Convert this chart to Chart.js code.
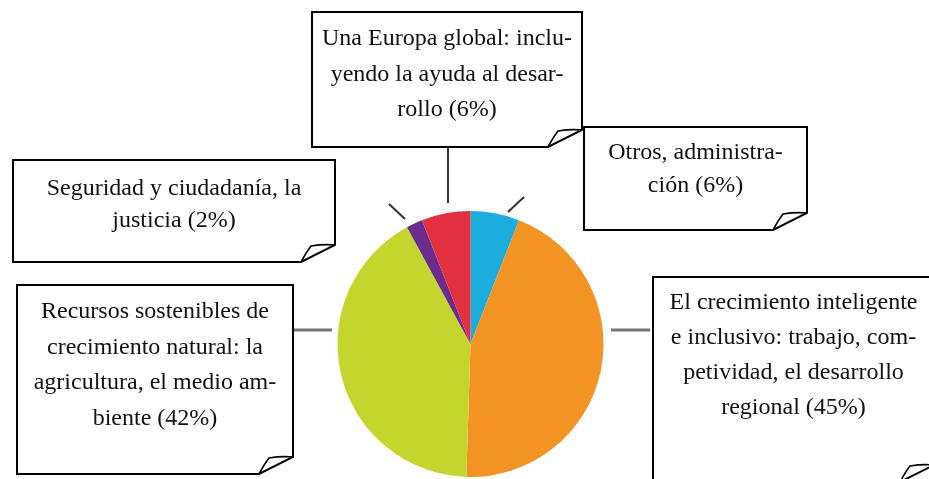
<!DOCTYPE html>
<html>
<head>
<meta charset="utf-8">
<script src="https://cdn.jsdelivr.net/npm/chart.js@4/dist/chart.umd.min.js"></script>
<style>
  html, body { margin: 0; padding: 0; background: #fff; }
  #wrap { width: 929px; height: 479px; }
</style>
</head>
<body>
<div id="wrap"><canvas id="budgetPie" width="929" height="479"></canvas></div>
<script>
// slices in drawing order, clockwise from 12 o'clock
const categories = [
    "Otros, administración",
    "El crecimiento inteligente e inclusivo",
    "Recursos sostenibles de crecimiento natural",
    "Seguridad y ciudadanía, la justicia",
    "Una Europa global",
];

const shares = [6, 45, 42, 2, 6];

const sliceColors = ["#1CADDD", "#F29323", "#C4D62E", "#6B2C8E", "#E2303F"];

// callout texts, same order as categories
const calloutLines = [
    ["Otros, administra-", "ción (6%)"],
    ["El crecimiento inteligente", "e inclusivo: trabajo, com-", "petividad, el desarrollo", "regional (45%)"],
    ["Recursos sostenibles de", "crecimiento natural: la", "agricultura, el medio am-", "biente (42%)"],
    ["Seguridad y ciudadanía, la", "justicia (2%)"],
    ["Una Europa global: inclu-", "yendo la ayuda al desar-", "rollo (6%)"],
];

// box placement (layout only)
const boxes = [
    { x: 584, y: 127, w: 223, h: 103, y0: 159, lh: 33 },
    { x: 653, y: 277, w: 281, h: 205, y0: 309, lh: 35 },
    { x: 17, y: 285, w: 276, h: 189, y0: 318, lh: 35.5 },
    { x: 13, y: 160, w: 322, h: 102, y0: 195, lh: 32 },
    { x: 312, y: 12, w: 270, h: 135, y0: 45, lh: 35.5 },
];

const ticks = [
    { x1: 508, y1: 212, x2: 524, y2: 197, color: "#333", w: 2 },
    { x1: 611, y1: 330, x2: 650, y2: 330, color: "#777", w: 3 },
    { x1: 294, y1: 330, x2: 332, y2: 330, color: "#777", w: 3 },
    { x1: 389, y1: 204, x2: 405, y2: 219, color: "#333", w: 2 },
    { x1: 448, y1: 147, x2: 448, y2: 203, color: "#333", w: 2 },
];

const callouts = {
    id: "callouts",
    afterDraw(chart) {
        const ctx = chart.ctx;
        ctx.save();

        ticks.forEach((t) => {
            ctx.strokeStyle = t.color;
            ctx.lineWidth = t.w;
            ctx.beginPath();
            ctx.moveTo(t.x1, t.y1);
            ctx.lineTo(t.x2, t.y2);
            ctx.stroke();
        });

        boxes.forEach((b, i) => {
            const R = b.x + b.w;
            const B = b.y + b.h;
            const fx = 34;
            const fy = 17;

            ctx.fillStyle = "#fff";
            ctx.strokeStyle = "#000";
            ctx.lineWidth = 2;
            ctx.lineJoin = "miter";

            ctx.beginPath();
            ctx.moveTo(b.x, b.y);
            ctx.lineTo(R, b.y);
            ctx.lineTo(R, B - fy);
            ctx.lineTo(R - fx, B);
            ctx.lineTo(b.x, B);
            ctx.closePath();
            ctx.fill();
            ctx.stroke();

            // curled corner
            ctx.lineWidth = 1.6;
            ctx.beginPath();
            ctx.moveTo(R - fx, B);
            ctx.quadraticCurveTo(R - fx + 6, B - fy + 6, R - fx + 10, B - fy + 1);
            ctx.quadraticCurveTo(R - 12, B - fy - 1, R, B - fy);
            ctx.stroke();

            ctx.fillStyle = "#111";
            ctx.font = '24px "Liberation Serif", "Times New Roman", serif';
            ctx.textAlign = "center";
            ctx.textBaseline = "alphabetic";
            const cx = b.x + b.w / 2;
            calloutLines[i].forEach((line, k) => {
                ctx.fillText(line, cx, b.y0 + k * b.lh);
            });
        });

        ctx.restore();
    },
};

new Chart(document.getElementById("budgetPie"), {
    type: "pie",

    data: {
        labels: categories,

        datasets: [
            {
                data: shares,

                backgroundColor: sliceColors,

                borderWidth: 0,
            },
        ],
    },

    options: {
        responsive: false,

        animation: false,

        layout: {
            padding: { top: 211, bottom: 2, left: 337, right: 325 },
        },

        plugins: {
            legend: { display: false },

            tooltip: { enabled: false },
        },
    },

    plugins: [callouts],
});
</script>
</body>
</html>
